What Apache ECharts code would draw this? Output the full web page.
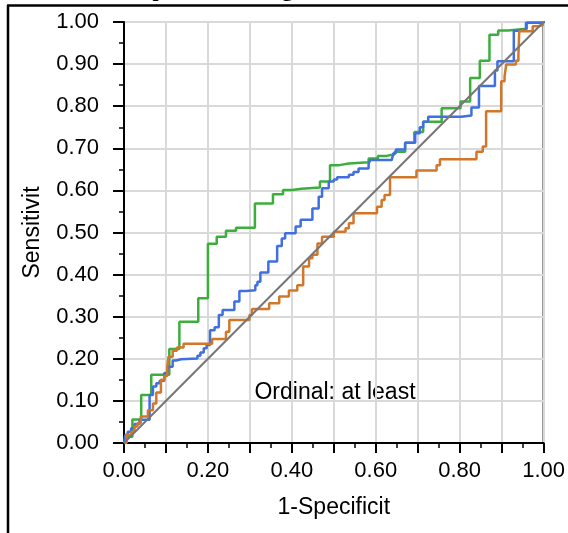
<!DOCTYPE html>
<html>
<head>
<meta charset="utf-8">
<script src="https://cdn.jsdelivr.net/npm/echarts@6/dist/echarts.min.js"></script>
<style>
html,body{margin:0;padding:0;background:#fff;}
#chart{width:568px;height:533px;}
</style>
</head>
<body>
<div id="chart"></div>
<script>
// ROC step curves: each point [1-specificity, sensitivity]
var greenCurve = [[0,0],[0.005,0.015],[0.02,0.056],[0.041,0.114],[0.065,0.162],[0.108,0.223],[0.132,0.288],[0.177,0.344],[0.200,0.473],[0.221,0.490],[0.243,0.504],[0.267,0.511],[0.312,0.569],[0.355,0.591],[0.379,0.601],[0.401,0.604],[0.423,0.607],[0.467,0.621],[0.491,0.660],[0.513,0.664],[0.536,0.667],[0.583,0.676],[0.605,0.682],[0.626,0.686],[0.645,0.692],[0.670,0.713],[0.692,0.739],[0.713,0.763],[0.757,0.795],[0.802,0.811],[0.825,0.867],[0.848,0.908],[0.871,0.970],[0.892,0.980],[0.915,0.984],[0.960,0.998],[1,1]];
var blueCurve = [[0,0],[0.003,0.019],[0.009,0.027],[0.017,0.035],[0.025,0.045],[0.037,0.055],[0.061,0.114],[0.069,0.134],[0.077,0.142],[0.085,0.148],[0.096,0.166],[0.104,0.181],[0.116,0.196],[0.124,0.199],[0.136,0.201],[0.175,0.207],[0.182,0.215],[0.190,0.225],[0.197,0.233],[0.205,0.268],[0.216,0.275],[0.226,0.304],[0.235,0.316],[0.263,0.336],[0.275,0.361],[0.291,0.363],[0.313,0.375],[0.318,0.383],[0.325,0.405],[0.344,0.431],[0.365,0.468],[0.376,0.486],[0.384,0.498],[0.409,0.514],[0.421,0.530],[0.449,0.557],[0.464,0.585],[0.472,0.605],[0.488,0.621],[0.500,0.626],[0.508,0.631],[0.536,0.637],[0.547,0.644],[0.559,0.652],[0.583,0.664],[0.587,0.672],[0.638,0.676],[0.642,0.688],[0.648,0.697],[0.670,0.713],[0.694,0.736],[0.705,0.750],[0.713,0.763],[0.725,0.775],[0.804,0.778],[0.828,0.797],[0.846,0.848],[0.884,0.885],[0.890,0.907],[0.929,0.979],[0.958,0.998],[1,1]];
var orangeCurve = [[0,0],[0.006,0.019],[0.017,0.027],[0.025,0.039],[0.032,0.047],[0.040,0.063],[0.057,0.078],[0.069,0.094],[0.077,0.120],[0.088,0.150],[0.096,0.159],[0.103,0.181],[0.106,0.205],[0.116,0.219],[0.126,0.227],[0.142,0.236],[0.210,0.247],[0.243,0.264],[0.251,0.292],[0.299,0.304],[0.305,0.318],[0.346,0.332],[0.370,0.348],[0.393,0.362],[0.413,0.375],[0.427,0.419],[0.441,0.439],[0.449,0.447],[0.461,0.474],[0.472,0.490],[0.500,0.502],[0.528,0.510],[0.536,0.522],[0.547,0.546],[0.603,0.561],[0.614,0.577],[0.621,0.589],[0.634,0.631],[0.697,0.647],[0.745,0.660],[0.753,0.674],[0.840,0.692],[0.855,0.704],[0.863,0.788],[0.899,0.859],[0.907,0.871],[0.911,0.899],[0.934,0.908],[0.940,0.922],[0.942,0.978],[0.974,0.990],[0.986,0.992],[0.998,1],[1,1]];
var diagonal = [[0,0],[1,1]];
var xTickLabels = ['0.00','0.20','0.40','0.60','0.80','1.00'];
var yTickLabels = ['0.00','0.10','0.20','0.30','0.40','0.50','0.60','0.70','0.80','0.90','1.00'];
var xTitle = '1-Specificit';
var yTitle = 'Sensitivit';
var annotation = 'Ordinal: at least';
var chartTitle = 'ROC plot of ranking';

var chart = echarts.init(document.getElementById('chart'), null, {renderer:'canvas'});
var FONT = '"Liberation Sans", Arial, sans-serif';
function curve(data, color, w) {
  return {type:'line', data:data, step:'end', showSymbol:false, symbol:'none',
    lineStyle:{color:color, width:w}, animation:false, silent:true};
}
chart.setOption({
  animation:false,
  backgroundColor:'#ffffff',
  grid:{left:124, right:21, top:22, bottom:90, show:true, borderColor:'#000', borderWidth:2, backgroundColor:'transparent'},
  xAxis:{type:'value', min:0, max:1, interval:0.1,
    name:xTitle, nameLocation:'middle', nameGap:53,
    nameTextStyle:{fontFamily:FONT, fontSize:23, color:'#000'},
    axisLine:{show:true, lineStyle:{color:'#000', width:2}},
    axisTick:{show:true, length:10, lineStyle:{color:'#000', width:2}},
    minorTick:{show:true, splitNumber:2, length:5, lineStyle:{color:'#000', width:1.5}},
    axisLabel:{margin:17, fontFamily:FONT, fontSize:22, color:'#000',
      formatter:function(v){ var i = Math.round(v*10); return (i%2===0) ? xTickLabels[i/2] : ''; }},
    splitLine:{show:true, lineStyle:{color:'#d9d9d9', width:2}}
  },
  yAxis:{type:'value', min:0, max:1, interval:0.1,
    name:yTitle, nameLocation:'middle', nameGap:80,
    nameTextStyle:{fontFamily:FONT, fontSize:23, color:'#000'},
    axisLine:{show:true, lineStyle:{color:'#000', width:2}},
    axisTick:{show:true, length:11, lineStyle:{color:'#000', width:2}},
    minorTick:{show:true, splitNumber:2, length:5, lineStyle:{color:'#000', width:1.5}},
    axisLabel:{margin:25, fontFamily:FONT, fontSize:22, color:'#000',
      formatter:function(v){ return yTickLabels[Math.round(v*10)]; }},
    splitLine:{show:true, lineStyle:{color:'#d9d9d9', width:2}}
  },
  series:[
    curve(greenCurve, '#3cae3c', 2.5),
    curve(blueCurve, '#3f6fe0', 2.5),
    curve(orangeCurve, '#d2772a', 2.5),
    {type:'line', data:diagonal, showSymbol:false, symbol:'none', lineStyle:{color:'#767676', width:2}, silent:true}
  ],
  graphic:[
    {type:'text', x:98, y:-9.5, style:{text:chartTitle, font:'bold 22px "Liberation Serif", "Times New Roman", serif', fill:'#000', verticalAlign:'middle', align:'left'}},
    {type:'line', shape:{x1:7, y1:5.5, x2:568, y2:5.5}, style:{stroke:'#000', lineWidth:2.5}},
    {type:'line', shape:{x1:8, y1:5, x2:8, y2:533}, style:{stroke:'#000', lineWidth:2.5}},
    {type:'text', x:335, y:393, style:{text:annotation, font:'23px "Liberation Sans", Arial, sans-serif', fill:'#000', align:'center', verticalAlign:'middle'}}
  ]
});
</script>
</body>
</html>
